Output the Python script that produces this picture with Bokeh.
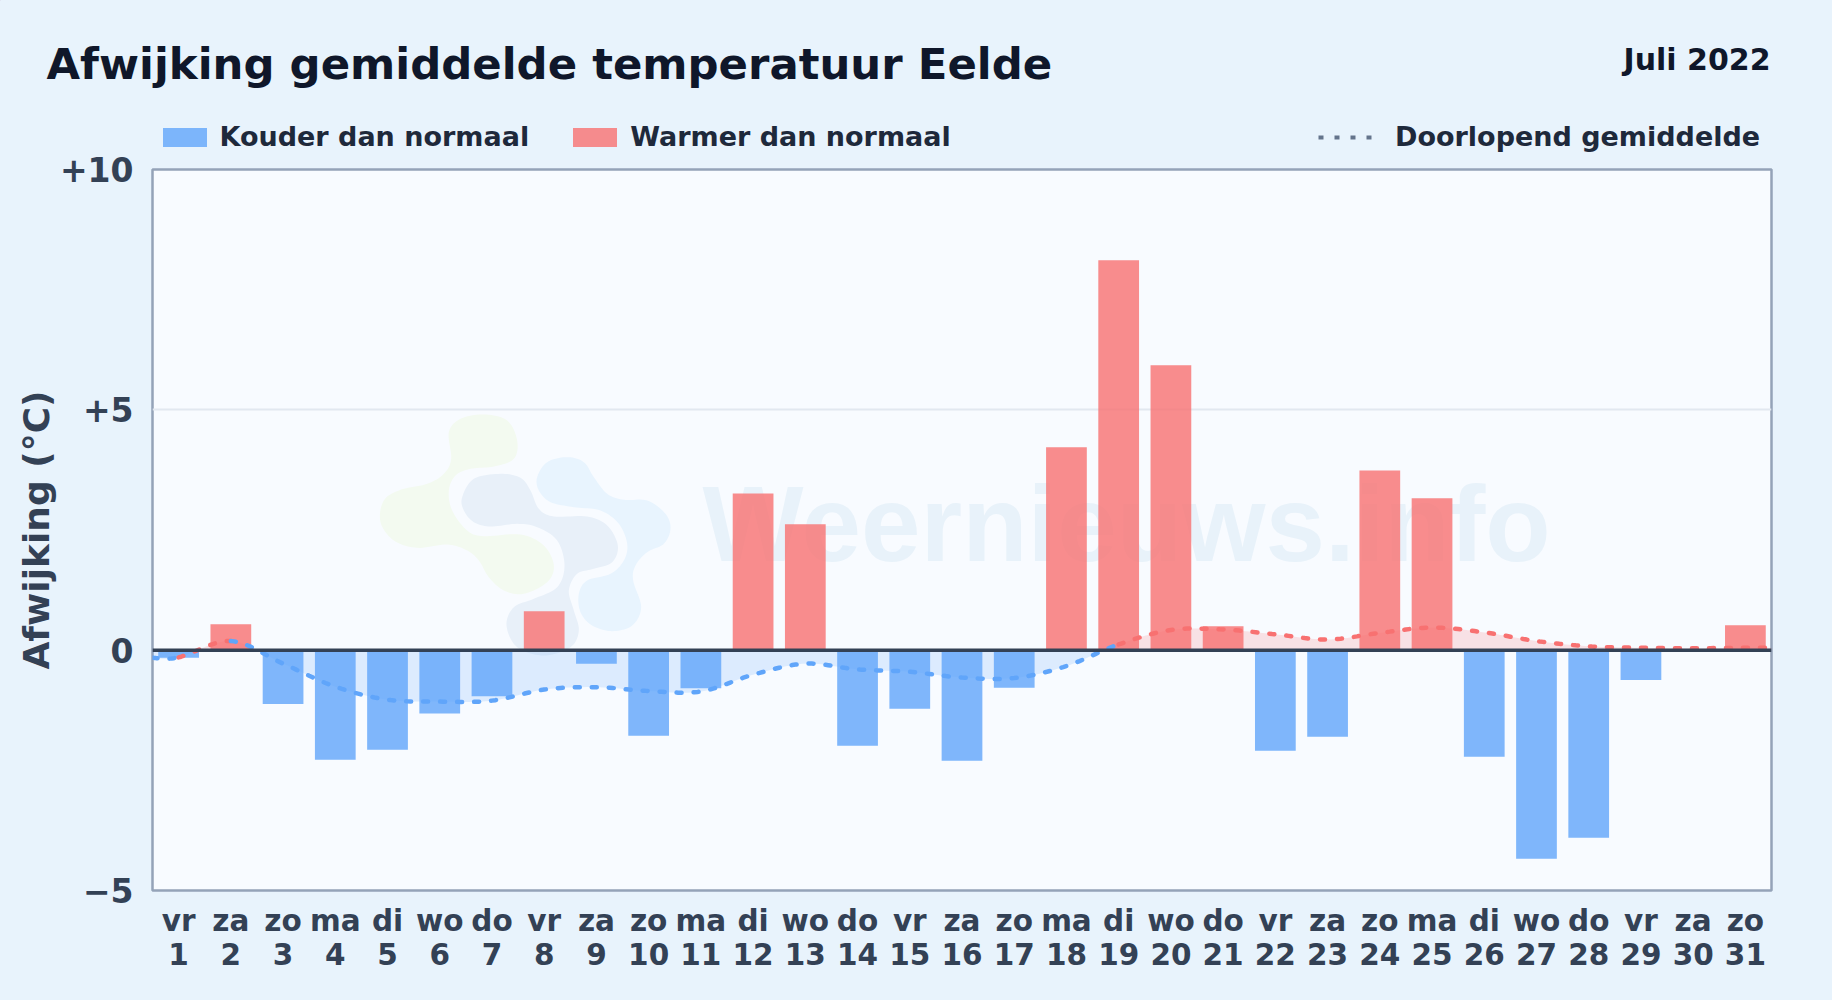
from bokeh.embed import file_html
from bokeh.layouts import column
from bokeh.resources import INLINE
from bokeh.plotting import figure
from bokeh.models import (ColumnDataSource, FixedTicker, Label, Legend, LegendItem, LinearAxis, Range1d, Span)
from bokeh.core.properties import value
import numpy as np

# ---------- data ----------
days = list(range(1, 32))
weekdays = ["vr","za","zo","ma","di","wo","do","vr","za","zo","ma","di","wo","do","vr","za",
            "zo","ma","di","wo","do","vr","za","zo","ma","di","wo","do","vr","za","zo"]
deviation = [-0.16, 0.54, -1.12, -2.28, -2.07, -1.32, -0.96, 0.81, -0.28, -1.78, -0.79, 3.26,
             2.62, -1.99, -1.22, -2.30, -0.78, 4.22, 8.11, 5.93, 0.50, -2.09, -1.80, 3.74,
             3.16, -2.22, -4.34, -3.90, -0.62, 0.0, 0.52]
rolling_x = [0.5] + days + [31.5]
rolling = [-0.16, -0.15, 0.19, -0.28, -0.76, -1.03, -1.07, -1.05, -0.82, -0.77, -0.85, -0.86,
           -0.51, -0.28, -0.40, -0.45, -0.57, -0.58, -0.33, 0.12, 0.42, 0.43, 0.33, 0.22,
           0.36, 0.47, 0.37, 0.19, 0.08, 0.05, 0.04, 0.05, 0.05]
y_ticks = [-5, 0, 5, 10]
y_labels = {-5: "\u22125", 0: "0", 5: "+5", 10: "+10"}

TITLE = "Afwijking gemiddelde temperatuur Eelde"
PERIOD = "Juli 2022"
WATERMARK = "Weernieuws.info"

# ---------- style ----------
PAGE = "#e8f3fc"
PANEL = "#f8fbff"
BLUE = "#60a5fa"
RED = "#f87171"
FONT = "DejaVu Sans"
L, R, T, B = 152, 61, 169, 110
W, H = 1832, 1000
HEAD = 153

def to_x(px):
    return 0.5 + (np.asarray(px, float) - L) * 31 / (W - L - R)

def to_y(py):
    return 10 - (np.asarray(py, float) - T) * 15 / (H - T - B)

def smooth(xs, ys, n=16):
    """Catmull-Rom rendering of the curve through the read points."""
    xs, ys = np.asarray(xs, float), np.asarray(ys, float)
    px = np.r_[xs[0], xs, xs[-1]]
    py = np.r_[ys[0], ys, ys[-1]]
    ox, oy = [], []
    for i in range(1, len(px) - 2):
        t = np.linspace(0, 1, n, endpoint=False)
        for arr, out in ((px, ox), (py, oy)):
            p0, p1, p2, p3 = arr[i-1], arr[i], arr[i+1], arr[i+2]
            out.extend(0.5 * (2*p1 + (p2-p0)*t + (2*p0-5*p1+4*p2-p3)*t**2 + (3*p1-p0-3*p2+p3)*t**3))
    ox.append(xs[-1]); oy.append(ys[-1])
    return np.array(ox), np.array(oy)

def closed_blob(pts, n=10):
    a = np.asarray(pts, float)
    m = len(a)
    ox, oy = [], []
    t = np.linspace(0, 1, n, endpoint=False)
    for i in range(m):
        p0, p1, p2, p3 = a[(i-1) % m], a[i], a[(i+1) % m], a[(i+2) % m]
        q = 0.5 * (2*p1[None] + np.outer(t, p2-p0) + np.outer(t**2, 2*p0-5*p1+4*p2-p3) + np.outer(t**3, 3*p1-p0-3*p2+p3))
        ox.extend(q[:, 0]); oy.extend(q[:, 1])
    return to_x(360 + np.array(ox) / 3), to_y(390 + np.array(oy) / 3)

# ---------- main chart ----------
p = figure(width=W, height=H - HEAD, output_backend="svg", toolbar_location=None,
           x_range=Range1d(0.5, 31.5), y_range=Range1d(-5, 10),
           min_border_left=L, min_border_right=R, min_border_top=T - HEAD, min_border_bottom=B,
           background_fill_color=PANEL, border_fill_color=PAGE,
           outline_line_color="#94a3b8", outline_line_width=2.5, frame_align=False)

# watermark logo
logo_green = [(265,125),(300,85),(370,72),(440,90),(470,150),(460,205),(400,228),(330,235),(285,255),
              (265,300),(275,360),(320,420),(370,437),(480,432),(550,465),(580,525),(560,575),(490,610),
              (430,600),(385,560),(355,510),(320,480),(260,462),(170,472),(100,450),(60,395),(70,330),
              (120,298),(200,280),(250,250),(272,205)]
logo_slate = [(305,320),(340,265),(420,250),(480,262),(510,300),(535,355),(580,378),(680,378),(740,405),
              (772,465),(755,515),(700,535),(650,550),(625,600),(640,660),(655,720),(630,770),(550,795),
              (470,770),(438,705),(460,650),(520,625),(590,590),(612,525),(590,450),(530,410),(470,400),
              (390,408),(340,395),(310,360)]
logo_sky = [(530,260),(560,215),(620,200),(670,215),(700,260),(740,310),(790,328),(860,330),(915,370),
            (930,415),(910,460),(860,485),(825,525),(818,570),(842,650),(815,705),(755,722),(695,705),
            (660,665),(655,610),(680,570),(750,550),(790,510),(800,460),(775,400),(720,360),(640,350),
            (570,335),(535,300)]
for pts, col in ((logo_green, "#f3faf0"), (logo_slate, "#e8f0f9"), (logo_sky, "#e8f4fe")):
    bx, by = closed_blob(pts)
    p.patch(bx, by, fill_color=col, line_color=None)

p.text(x=[float(to_x(702))], y=[float(to_y(523))], text=[WATERMARK], text_font=value("Liberation Sans"),
       text_font_style="bold", text_font_size="107px", text_color="#e8f2fa",
       text_baseline="alphabetic", text_align="left")

# rolling mean fill
sx, sy = smooth(rolling_x, rolling)
p.varea(sx, np.minimum(sy, 0), np.zeros_like(sy), fill_color=BLUE, fill_alpha=0.18)
p.varea(sx, np.maximum(sy, 0), np.zeros_like(sy), fill_color=RED, fill_alpha=0.18)

# bars
neg = ColumnDataSource(dict(x=[d for d, v in zip(days, deviation) if v < 0],
                            top=[v for v in deviation if v < 0]))
pos = ColumnDataSource(dict(x=[d for d, v in zip(days, deviation) if v > 0],
                            top=[v for v in deviation if v > 0]))
p.vbar(x="x", top="top", bottom=0, width=0.78, source=neg, fill_color=BLUE, fill_alpha=0.8, line_color=None)
p.vbar(x="x", top="top", bottom=0, width=0.78, source=pos, fill_color=RED, fill_alpha=0.8, line_color=None)

# rolling mean line, coloured per stretch
stretches = [(0.5, 1, BLUE), (1, 2, RED), (2, 19, BLUE), (19, 31.5, RED)]
for a, b, col in stretches:
    m = (sx >= a - 1e-9) & (sx <= b + 1e-9)
    p.line(sx[m], sy[m], line_color=col, line_width=4.5, line_dash="5 12", line_cap="round")

# zero line
p.add_layout(Span(location=0, dimension="width", line_color="#334155", line_width=3.5))

# axes
p.xaxis.ticker = FixedTicker(ticks=days)
p.xaxis.major_label_overrides = {d: w for d, w in zip(days, weekdays)}
p.xaxis.major_label_standoff = 7
date_axis = LinearAxis(ticker=FixedTicker(ticks=days),
                       major_label_overrides={d: str(d) for d in days},
                       major_label_standoff=-4)
p.add_layout(date_axis, "below")
for ax in (p.xaxis[0], date_axis):
    ax.major_label_text_font = FONT
    ax.major_label_text_font_style = "bold"
    ax.major_label_text_font_size = "29.5px"
    ax.major_label_text_color = "#334155"
p.yaxis.ticker = FixedTicker(ticks=y_ticks)
p.yaxis.major_label_overrides = y_labels
p.yaxis.major_label_text_font = FONT
p.yaxis.major_label_text_font_style = "bold"
p.yaxis.major_label_text_font_size = "33px"
p.yaxis.major_label_text_color = "#334155"
p.yaxis.major_label_standoff = 13
p.yaxis.axis_label = "Afwijking (\u00b0C)"
p.yaxis.axis_label_text_font = FONT
p.yaxis.axis_label_text_font_style = "bold"
p.yaxis.axis_label_text_font_size = "36px"
p.yaxis.axis_label_text_color = "#334155"
p.yaxis.axis_label_standoff = 0
for ax in (p.xaxis[0], date_axis, p.yaxis[0]):
    ax.axis_line_color = None
    ax.major_tick_line_color = None
    ax.minor_tick_line_color = None
p.xgrid.visible = False
p.ygrid.ticker = FixedTicker(ticks=[5])
p.ygrid.grid_line_color = "#e2e8f0"
p.ygrid.grid_line_width = 2

# ---------- header strip: title, period, legends ----------
h = figure(width=W, height=HEAD, output_backend="svg", toolbar_location=None,
           x_range=Range1d(0, W), y_range=Range1d(HEAD, 0),
           x_axis_location=None, y_axis_location=None,
           min_border=0, min_border_left=0, min_border_right=0, min_border_top=0, min_border_bottom=0,
           background_fill_color=PAGE, border_fill_color=PAGE, outline_line_color=None, frame_align=False)
h.grid.visible = False

h.add_layout(Label(x=46, y=63, text=TITLE, text_font=FONT, text_font_style="bold",
                   text_font_size="43.4px", text_color="#0f172a", text_baseline="middle"))
h.add_layout(Label(x=1770, y=59, text=PERIOD, text_font=FONT, text_font_style="bold",
                   text_font_size="30px", text_color="#0f172a", text_align="right", text_baseline="middle"))

# legend keys take their style from these off-screen one-point renderers
key_neg = h.vbar(x=[-50], top=[-50], bottom=-60, width=1, fill_color=BLUE, fill_alpha=0.8, line_color=None)
key_pos = h.vbar(x=[-50], top=[-50], bottom=-60, width=1, fill_color=RED, fill_alpha=0.8, line_color=None)
key_line = h.line([-50, -40], [-50, -50], line_color="#64748b", line_width=4, line_dash="5 11")

common = dict(orientation="horizontal", background_fill_alpha=0, border_line_color=None,
              padding=0, margin=0, label_text_font=FONT, label_text_font_style="bold",
              label_text_font_size="27px", label_text_color="#1e293b")
left = Legend(items=[LegendItem(label="Kouder dan normaal", renderers=[key_neg]),
                     LegendItem(label="Warmer dan normaal", renderers=[key_pos])],
              location=(156.5, 1), glyph_width=55, glyph_height=24, spacing=38, label_standoff=8, **common)
right = Legend(items=[LegendItem(label="Doorlopend gemiddelde", renderers=[key_line])],
               location=(1318, 1), glyph_width=54, glyph_height=24, label_standoff=23, **common)
h.add_layout(left)
h.add_layout(right)

page = column(h, p, spacing=0)

TEMPLATE = """{% block preamble %}<style>html,body{margin:0;padding:0;background:#e8f3fc;overflow:hidden}</style>{% endblock %}
"""
open("out.html", "w").write(file_html(page, INLINE, template=TEMPLATE))
